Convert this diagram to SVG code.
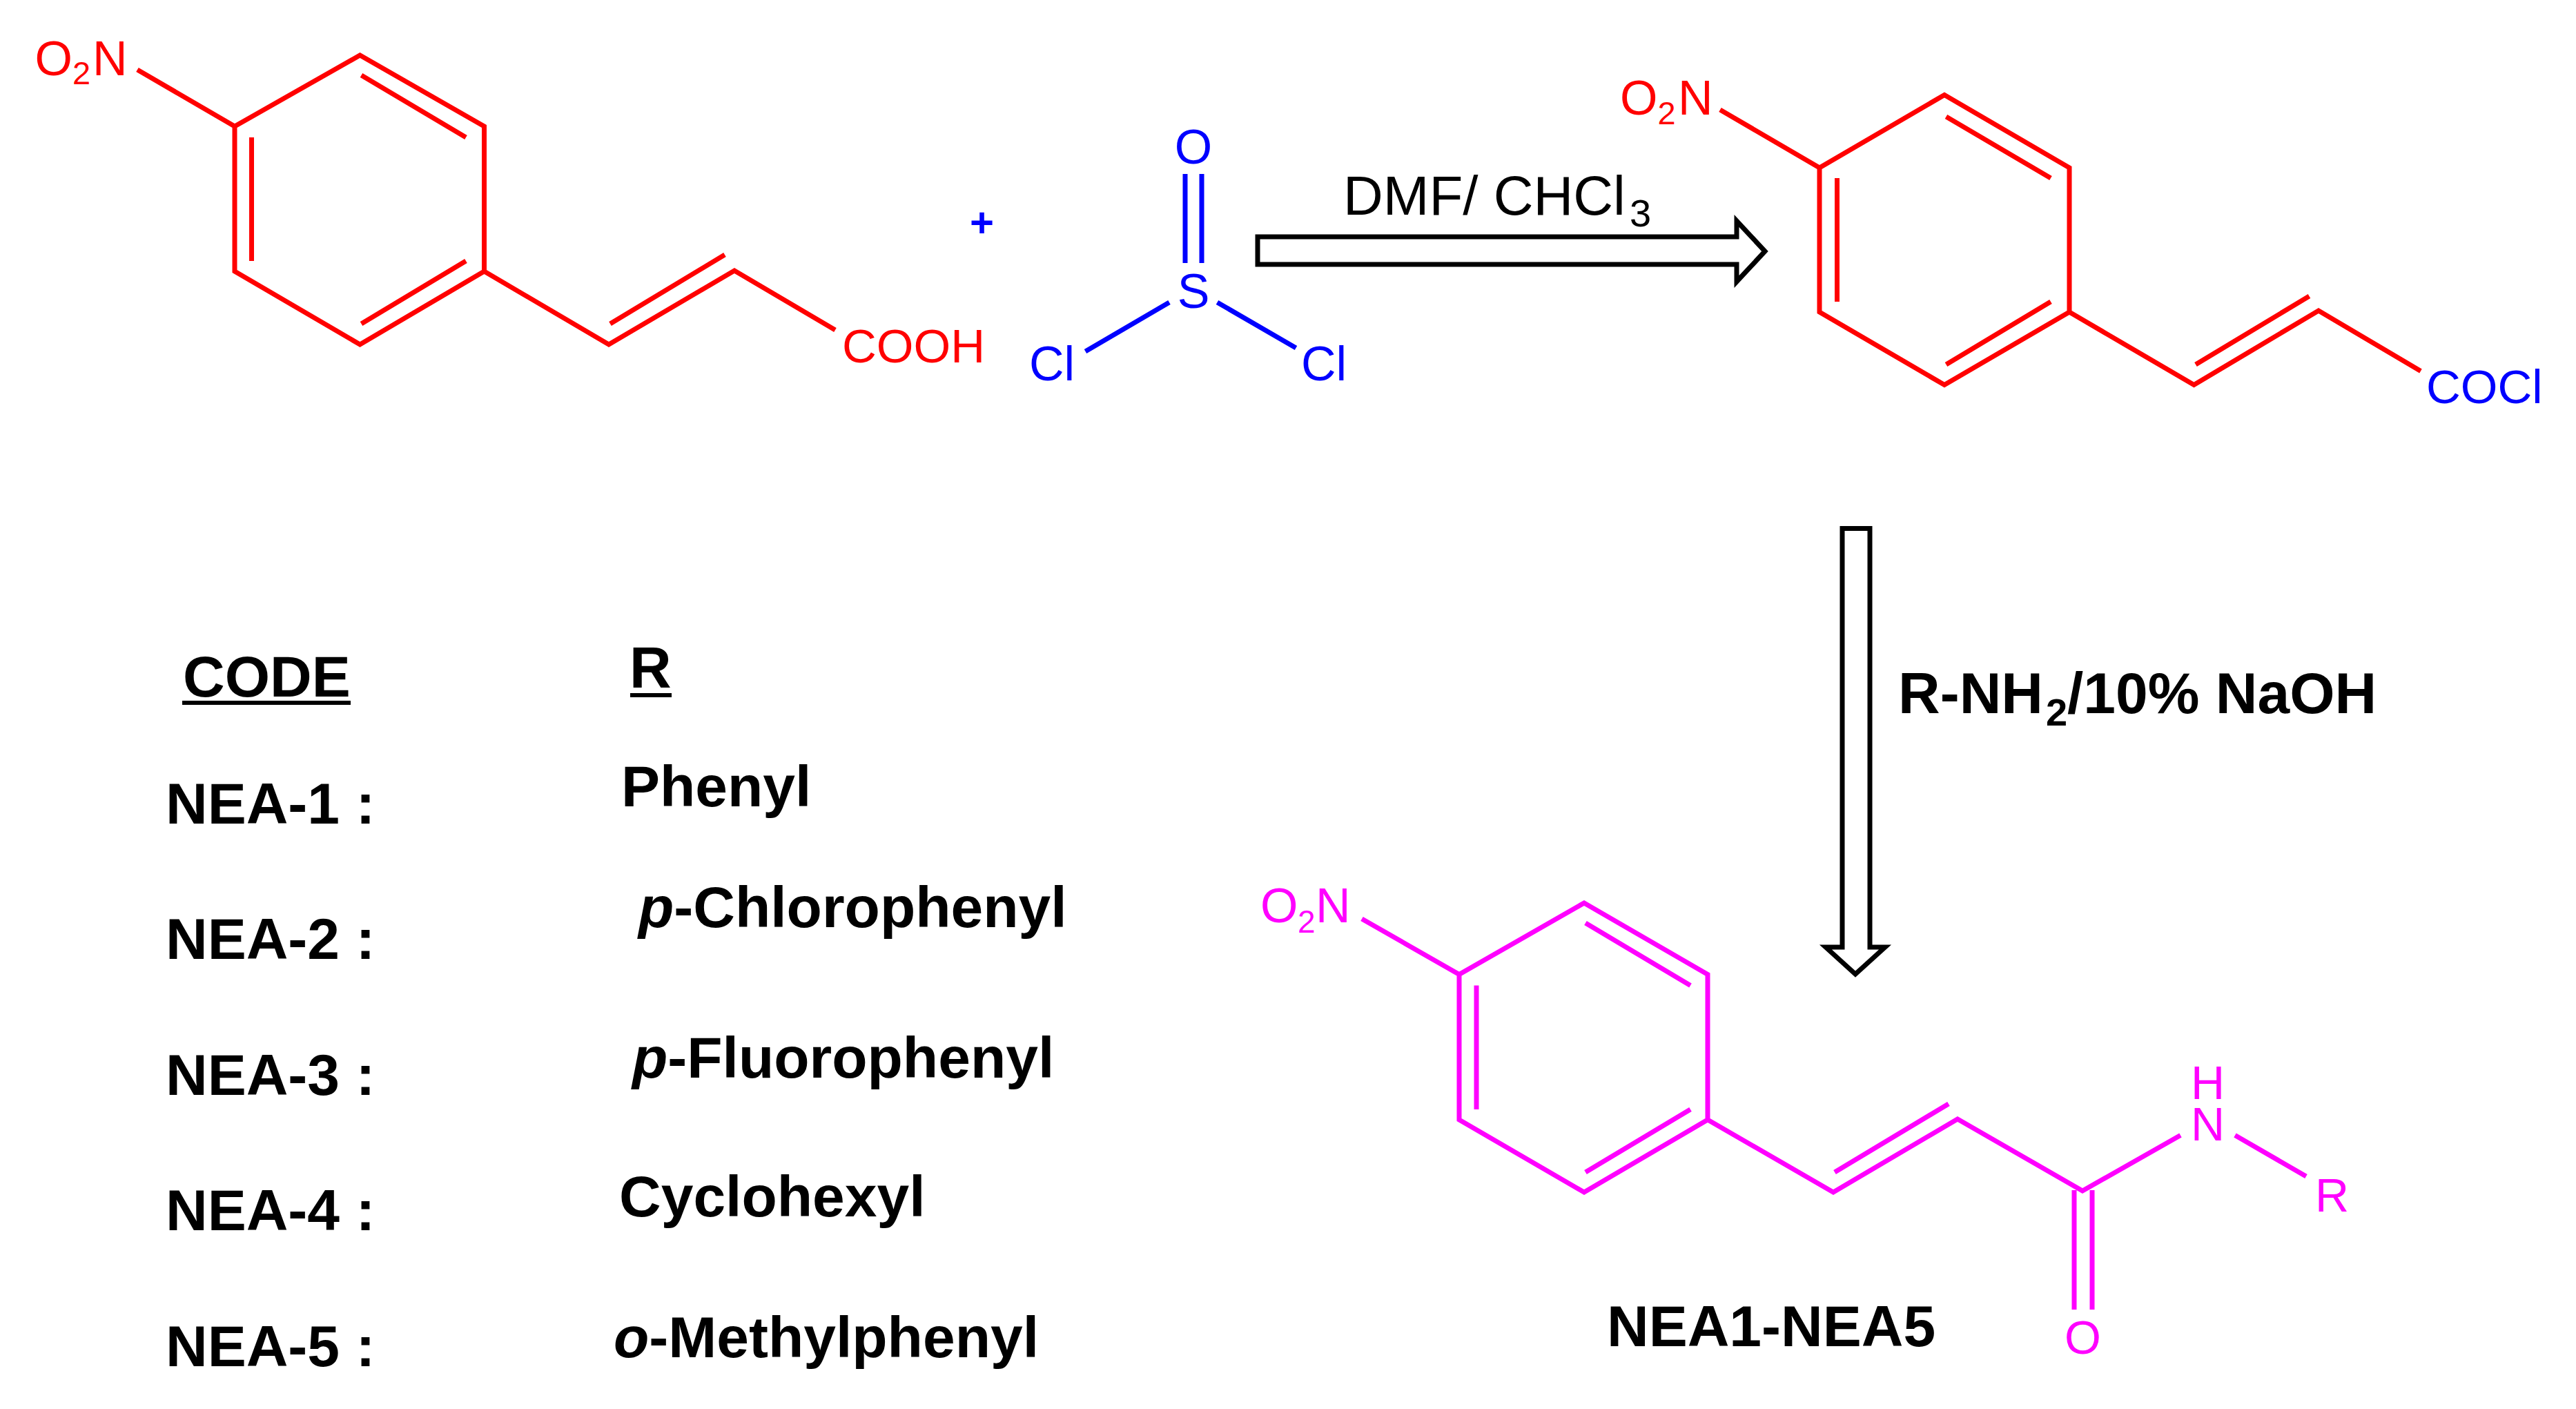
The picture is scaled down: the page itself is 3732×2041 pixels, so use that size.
<svg xmlns="http://www.w3.org/2000/svg" width="3732" height="2041" viewBox="0 0 3732 2041">
<style>
text{font-family:"Liberation Sans",Arial,sans-serif}
.b{fill:none;stroke-width:7;stroke-linecap:butt;stroke-linejoin:miter}
.r{stroke:#f00}.bl{stroke:#00f}.m{stroke:#f0f}
.tr{fill:#f00}.tb{fill:#00f}.tm{fill:#f0f}
.a{font-size:70px}.s{font-size:47px}
.k{fill:#000;font-size:84px;font-weight:bold}
.ar{fill:#fff;stroke:#000;stroke-width:7;stroke-linejoin:miter}
</style>
<rect width="3732" height="2041" fill="#fff"/>
<g id="reactant-acid">
<path class="b r" d="M199 101L340 183L340 393L521.5 499L701.5 393L701.5 183L521.5 80L340 183M701.5 393L882 499L1064 392L1210 478M523.5 109L675 199M364.5 199V378M675 378L523.5 469M884 469L1050 369"/>
<text class="tr a" x="50.5" y="109">O</text><text class="tr s" x="105" y="122">2</text><text class="tr a" x="134" y="109">N</text>
<text class="tr" font-size="69" x="1220" y="525">COOH</text>
</g>
<g id="plus"><text class="tb" font-size="60" font-weight="bold" text-anchor="middle" x="1422.5" y="343">+</text></g>
<g id="thionyl-chloride">
<path class="b bl" d="M1717 252V381M1741 252V381M1694 438L1572.5 509M1763.5 438L1877.5 504"/>
<text class="tb a" text-anchor="middle" x="1729" y="237">O</text>
<text class="tb a" text-anchor="middle" x="1729" y="446">S</text>
<text class="tb a" x="1491" y="550.6">Cl</text>
<text class="tb a" x="1885" y="550.6">Cl</text>
</g>
<g id="acid-chloride">
<path class="b r" d="M2492 159L2636 243L2636 452L2817 557.5L2998 452L2998 243L2817 137.5L2636 243M2998 452L3178.5 557.5L3359 450L3507 537.5M2819.5 169L2971 258M2661.5 258V437M2971 437L2819.5 528M3181 528L3345.5 429"/>
<text class="tr a" x="2347" y="166">O</text><text class="tr s" x="2401.5" y="180">2</text><text class="tr a" x="2431" y="166">N</text>
<text class="tb" font-size="69" x="3515" y="583.5">COCl</text>
</g>
<g id="product">
<path class="b m" d="M1973 1331L2114 1411.5L2114 1622L2295 1727L2474 1622L2474 1411.5L2295 1308L2114 1411.5M2474 1622L2656 1727L2836 1621L3017 1725L3159 1644.5M3238 1644.5L3341 1704M3005 1724V1897M3031 1724V1897M2297 1337L2449 1427.5M2139 1427.5V1607M2449 1607L2297 1698M2658 1698L2823 1599"/>
<text class="tm" font-size="70" x="1826" y="1336">O</text><text class="tm" font-size="46" x="1880" y="1351">2</text><text class="tm" font-size="70" x="1906" y="1336">N</text>
<text class="tm" font-size="68" x="3174" y="1591.6">H</text>
<text class="tm" font-size="68" x="3174" y="1652">N</text>
<text class="tm" font-size="68" x="3354" y="1754.5">R</text>
<text class="tm" font-size="68" text-anchor="middle" x="3017.5" y="1961">O</text>
</g>
<g id="connectors">
<path class="ar" d="M1822 343H2516V320L2557 364L2516 408V383H1822Z"/>
<path class="ar" d="M2669 765.5H2709V1372H2731L2688 1411L2645 1372H2669Z"/>
</g>
<g id="label-dmf"><text fill="#000" font-size="80" x="1946" y="310.7">DMF/ CHCl</text><text fill="#000" font-size="56" x="2361" y="328">3</text></g>
<g id="label-amine"><text class="k" x="2750" y="1033">R-NH</text><text class="k" style="font-size:56px" x="2964" y="1051">2</text><text class="k" x="2995" y="1033">/10% NaOH</text></g>
<g id="label-product"><text class="k" x="2328" y="1950">NEA1-NEA5</text></g>
<g id="table">
<text class="k" x="265" y="1009">CODE</text><rect x="264" y="1015" width="244" height="6"/>
<text class="k" x="912" y="996">R</text><rect x="913" y="1004" width="60" height="6"/>
<text class="k" x="240" y="1192.6">NEA-1 :</text><text class="k" x="900" y="1168">Phenyl</text>
<text class="k" x="240" y="1389">NEA-2 :</text><text class="k" x="925" y="1343"><tspan font-style="italic">p</tspan>-Chlorophenyl</text>
<text class="k" x="240" y="1585.6">NEA-3 :</text><text class="k" x="916" y="1561"><tspan font-style="italic">p</tspan>-Fluorophenyl</text>
<text class="k" x="240" y="1782">NEA-4 :</text><text class="k" x="897" y="1762">Cyclohexyl</text>
<text class="k" x="240" y="1978.6">NEA-5 :</text><text class="k" x="889" y="1966"><tspan font-style="italic">o</tspan>-Methylphenyl</text>
</g>
</svg>
